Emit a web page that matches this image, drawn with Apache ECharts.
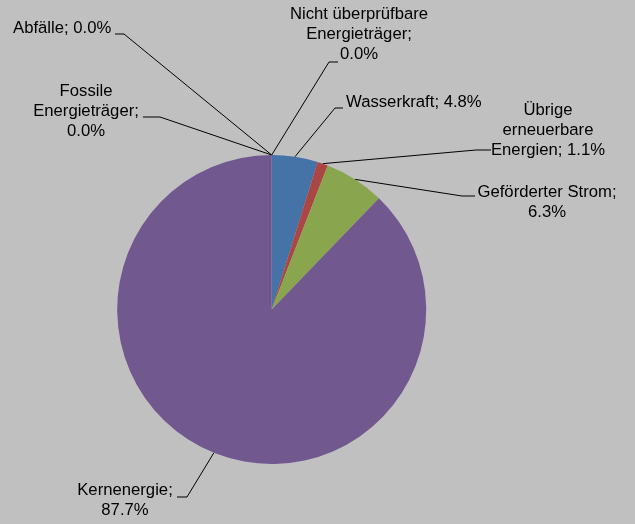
<!DOCTYPE html>
<html>
<head>
<meta charset="utf-8">
<script src="https://cdn.jsdelivr.net/npm/echarts@6/dist/echarts.min.js"></script>
<style>
html,body{margin:0;padding:0;background:#C0C0C0;}
#c{width:635px;height:524px;}
</style>
</head>
<body>
<div id="c"></div>
<script>
// Data (percent shares), clockwise from 12 o'clock
const categories = ['Wasserkraft', 'Übrige erneuerbare Energien', 'Geförderter Strom', 'Kernenergie', 'Fossile Energieträger', 'Abfälle', 'Nicht überprüfbare Energieträger'];
const labelNames = ['Wasserkraft', 'Übrige\nerneuerbare\nEnergien', 'Geförderter Strom', 'Kernenergie', 'Fossile\nEnergieträger', 'Abfälle', 'Nicht überprüfbare\nEnergieträger'];
const values = [4.8, 1.1, 6.3, 87.7, 0.0, 0.0, 0.0];
// separator between name and value in each label (space or line break)
const valueSep = [' ', ' ', '\n', '\n', '\n', ' ', '\n'];

const colors = ['#4572A7', '#AA4643', '#89A54E', '#71588F', '#4198AF', '#DB843D', '#93A9CF'];

// label placement (style/layout): x, top y, align, bend point, end point of leader
const labelPlace = [
  {x: 346, y: 92, align: 'left',   bend: [335, 108], end: [343, 108]},
  {x: 548, y: 100, align: 'center', bend: [476, 150], end: [491, 150]},
  {x: 547, y: 182, align: 'center', bend: [462, 196], end: [475, 196]},
  {x: 125, y: 480, align: 'center', bend: [187, 497], end: [177, 497]},
  {x: 86,  y: 81,  align: 'center', bend: [160, 117], end: [143, 117]},
  {x: 13,  y: 18,  align: 'left',   bend: [124, 34],  end: [115, 34]},
  {x: 359, y: 4,   align: 'center', bend: [329, 62],  end: [338, 62]}
];

const chart = echarts.init(document.getElementById('c'), null, {renderer: 'canvas'});
chart.setOption({
  backgroundColor: '#C0C0C0',
  animation: false,
  series: [{
    type: 'pie',
    center: [271.7, 309.5],
    radius: 154.5,
    startAngle: 90,
    clockwise: true,
    avoidLabelOverlap: false,
    minShowLabelAngle: 0,
    emphasis: {disabled: true},
    itemStyle: {borderWidth: 0},
    data: categories.map((c, i) => ({name: c, value: values[i], itemStyle: {color: colors[i]}})),
    label: {
      show: true,
      position: 'outside',
      fontFamily: 'Liberation Sans, Arial, sans-serif',
      fontSize: 16.7,
      lineHeight: 20,
      color: '#000',
      formatter: p => labelNames[p.dataIndex] + ';' + valueSep[p.dataIndex] + values[p.dataIndex].toFixed(1) + '%'
    },
    labelLine: {
      show: true,
      length: 10,
      length2: 10,
      smooth: false,
      lineStyle: {color: '#000', width: 1}
    },
    labelLayout: function (params) {
      const lp = labelPlace[params.dataIndex];
      const anchor = params.labelLinePoints ? params.labelLinePoints[0] : [271.7, 155];
      return {
        x: lp.x,
        y: lp.y,
        align: lp.align,
        verticalAlign: 'top',
        labelLinePoints: [anchor, lp.bend, lp.end]
      };
    }
  }]
});
</script>
</body>
</html>
